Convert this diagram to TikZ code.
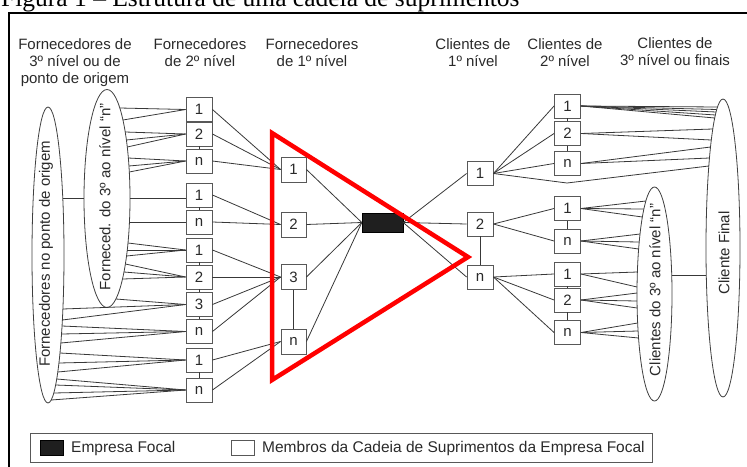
\documentclass[tikz,border=0pt]{standalone}
\usepackage{fontspec}
\setmainfont{Liberation Sans}
\newfontfamily\titlefont{Liberation Serif}
\usetikzlibrary{shapes.geometric,calc}
\definecolor{ln}{HTML}{383838}
\definecolor{bx}{HTML}{585858}
\definecolor{tx}{HTML}{2A2A2A}
\tikzset{
  mbox/.style={draw=bx, line width=0.9pt, fill=white, minimum width=26pt, minimum height=24pt, inner sep=0pt, font=\fontsize{15}{17}\selectfont, text=tx},
  focal/.style={draw=black, fill=black!88, minimum width=41pt, minimum height=19pt, inner sep=0pt},
  ell/.style={draw=black!75, line width=0.8pt, fill=white, ellipse, inner sep=0pt},
  etext/.style={rotate=90, font=\fontsize{15}{17}\selectfont, text=tx, inner sep=0pt},
  head/.style={align=center, font=\fontsize{15}{17}\selectfont, text=tx, inner sep=0pt},
  conn/.style={draw=ln, line width=0.8pt},
  vlink/.style={draw=ln, line width=1pt},
  legtext/.style={anchor=west, inner sep=0pt, font=\fontsize{15.5}{17}\selectfont, text=tx},
}
\newcommand\myfan[6]{%
  \foreach \yy in {#6}{\pgfmathsetmacro\dd{\yy-#5}%
    \draw[conn] (#1) -- ($(#2)+({#3*sqrt(1-(\dd/#4)^2)},\dd)$);}}
\begin{document}
\begin{tikzpicture}[x=1pt,y=-1pt]
\useasboundingbox (0,0) rectangle (747,466);
% title and frame
\node[anchor=base west, inner sep=0pt, font=\titlefont\fontsize{25.5}{28}\selectfont] (title) at (1,6.5) {Figura 1 – Estrutura de uma cadeia de suprimentos};
\draw[line width=2pt] (760,13) -- (9,13) -- (9,480);
% headings
\node[head] (h1) at (75,62.5) {Fornecedores de\\3º nível ou de\\ponto de origem};
\node[head] (h2) at (200,52.5) {Fornecedores\\de 2º nível};
\node[head] (h3) at (312,52.5) {Fornecedores\\de 1º nível};
\node[head] (h4) at (473,52.5) {Clientes de\\1º nível};
\node[head] (h5) at (565,52.5) {Clientes de\\2º nível};
\node[head] (h6) at (675,51.5) {Clientes de\\3º nível ou finais};
% ellipses
\node[ell, minimum width=32pt, minimum height=296pt] (oe) at (48,255) {};
\node[ell, minimum width=46pt, minimum height=218pt] (ie) at (107,198.5) {};
\node[ell, minimum width=34pt, minimum height=298pt] (cf) at (723,248) {};
\node[ell, minimum width=35pt, minimum height=214pt] (ce) at (654.5,294) {};
\node[etext] (oet) at (46,254) {Fornecedores no ponto de origem};
\node[etext] (iet) at (105,197) {Forneced. do 3º ao nível “n”};
\node[etext] (cft) at (724,253) {Cliente Final};
\node[etext] (cet) at (655,290) {Clientes do 3º ao nível “n”};
% supplier tier 2
\foreach \nm/\yy/\lb in {s2a1/109.5/1, s2a2/134/2, s2an/161/n, s2b1/195/1, s2bn/222/n, s2c1/250/1, s2c2/277/2, s2c3/304.5/3, s2cn/331.5/n, s2d1/360/1, s2dn/390/n}
  \node[mbox] (\nm) at (199,\yy) {\lb};
% supplier tier 1
\foreach \nm/\yy/\lb in {s1a/169.5/1, s1b/224.5/2, s1c/277/3, s1d/341.5/n}
  \node[mbox, minimum width=25pt, minimum height=25pt] (\nm) at (293.5,\yy) {\lb};
% focal
\node[focal] (foc) at (382.5,222.5) {};
% clients tier 1
\foreach \nm/\yy/\lb in {k1a/173.5/1, k1b/224/2, k1c/277/n}
  \node[mbox] (\nm) at (480,\yy) {\lb};
% clients tier 2
\foreach \nm/\yy/\lb in {k2a1/106/1, k2a2/133.5/2, k2an/163.5/n, k2b1/208.5/1, k2bn/241/n, k2c1/274/1, k2c2/300/2, k2cn/332.5/n}
  \node[mbox] (\nm) at (567.5,\yy) {\lb};
% vertical links
\foreach \a/\b in {s2a2/s2an, s2b1/s2bn, s2c1/s2c2, s2c2/s2c3, s2c3/s2cn, s2d1/s2dn, s1c/s1d, k1b/k1c, k2a1/k2a2, k2a2/k2an, k2b1/k2bn, k2c1/k2c2, k2c2/k2cn}
  \draw[vlink] (\a.south) -- (\b.north);
% tier 2 -> tier 1
\foreach \a/\b in {s2a1/s1a, s2a2/s1a, s2an/s1a, s2b1/s1b, s2bn/s1b, s2c1/s1c, s2c2/s1c, s2c3/s1c, s2cn/s1c, s2d1/s1d, s2dn/s1d}
  \draw[conn] (\a.east) -- (\b.west);
% tier 1 -> focal
\foreach \a in {s1a,s1b,s1c,s1d}
  \draw[conn] (\a.east) -- (foc.west);
\foreach \b in {k1a,k1b,k1c}
  \draw[conn] (foc.east) -- (\b.west);
% clients 1 -> clients 2
\foreach \a/\b in {k1a/k2a1, k1a/k2a2, k1a/k2an, k1b/k2b1, k1b/k2bn, k1c/k2c1, k1c/k2c2, k1c/k2cn}
  \draw[conn] (\a.east) -- (\b.west);
% left fans
\myfan{s2a1.west}{ie}{23}{109}{198.5}{108,120}
\myfan{s2a2.west}{ie}{23}{109}{198.5}{132,140,147}
\myfan{s2an.west}{ie}{23}{109}{198.5}{158,166,172}
\myfan{s2bn.west}{ie}{23}{109}{198.5}{222}
\myfan{s2c1.west}{ie}{23}{109}{198.5}{243,250,256}
\myfan{s2c2.west}{ie}{23}{109}{198.5}{264,272,279}
\myfan{s2c3.west}{ie}{23}{109}{198.5}{299}
\myfan{s2c3.west}{oe}{16}{148}{255}{309,320}
\myfan{s2cn.west}{oe}{16}{148}{255}{326,334,343}
\myfan{s2d1.west}{oe}{16}{148}{255}{353,363,372}
\myfan{s2dn.west}{oe}{16}{148}{255}{379,385,393,400}
\draw[conn] (ie.east) -- (ie.east -| s2b1.west);
\draw[conn] (ie.west) -- ($(oe)+({16*sqrt(1-(56.5/148)^2)},-56.5)$);
% right fans
\myfan{k2a1.east}{cf}{-17}{149}{248}{107,109.5,112,115,118}
\myfan{k2a2.east}{cf}{-17}{149}{248}{129,140}
\myfan{k2an.east}{cf}{-17}{149}{248}{147,158}
\myfan{k2b1.east}{ce}{-17.5}{107}{294}{201,209,217}
\myfan{k2bn.east}{ce}{-17.5}{107}{294}{234,242,249}
\myfan{k2c1.east}{ce}{-17.5}{107}{294}{272,287}
\myfan{k2c2.east}{ce}{-17.5}{107}{294}{293,301,308}
\myfan{k2cn.east}{ce}{-17.5}{107}{294}{323,331,338}
\coordinate (vb) at (567,183);
\draw[conn] (k1a.east) -- (vb) -- ($(cf)+({-17*sqrt(1-(82/149)^2)},-82)$);
\draw[conn] ($(ce)+({17.5*sqrt(1-(19/107)^2)},-19)$) -- ($(cf)+({-17*sqrt(1-(27/149)^2)},27)$);
% red triangle
\draw[red, line width=4.5pt, line join=miter] (272,133) -- (468,257) -- (272,380) -- cycle;
% legend
\node[draw=bx, line width=0.9pt, minimum width=622pt, minimum height=29pt, inner sep=0pt, anchor=north west] (leg) at (30,433) {};
\node[draw=black, fill=black!88, minimum width=23pt, minimum height=15pt, inner sep=0pt] (lfoc) at (51.5,448) {};
\node[legtext] (lfoct) at (71,448) {Empresa Focal};
\node[draw=bx, line width=0.9pt, fill=white, minimum width=23pt, minimum height=15pt, inner sep=0pt] (lmem) at (242.5,448) {};
\node[legtext] (lmemt) at (262,448) {Membros da Cadeia de Suprimentos da Empresa Focal};
\end{tikzpicture}
\end{document}
